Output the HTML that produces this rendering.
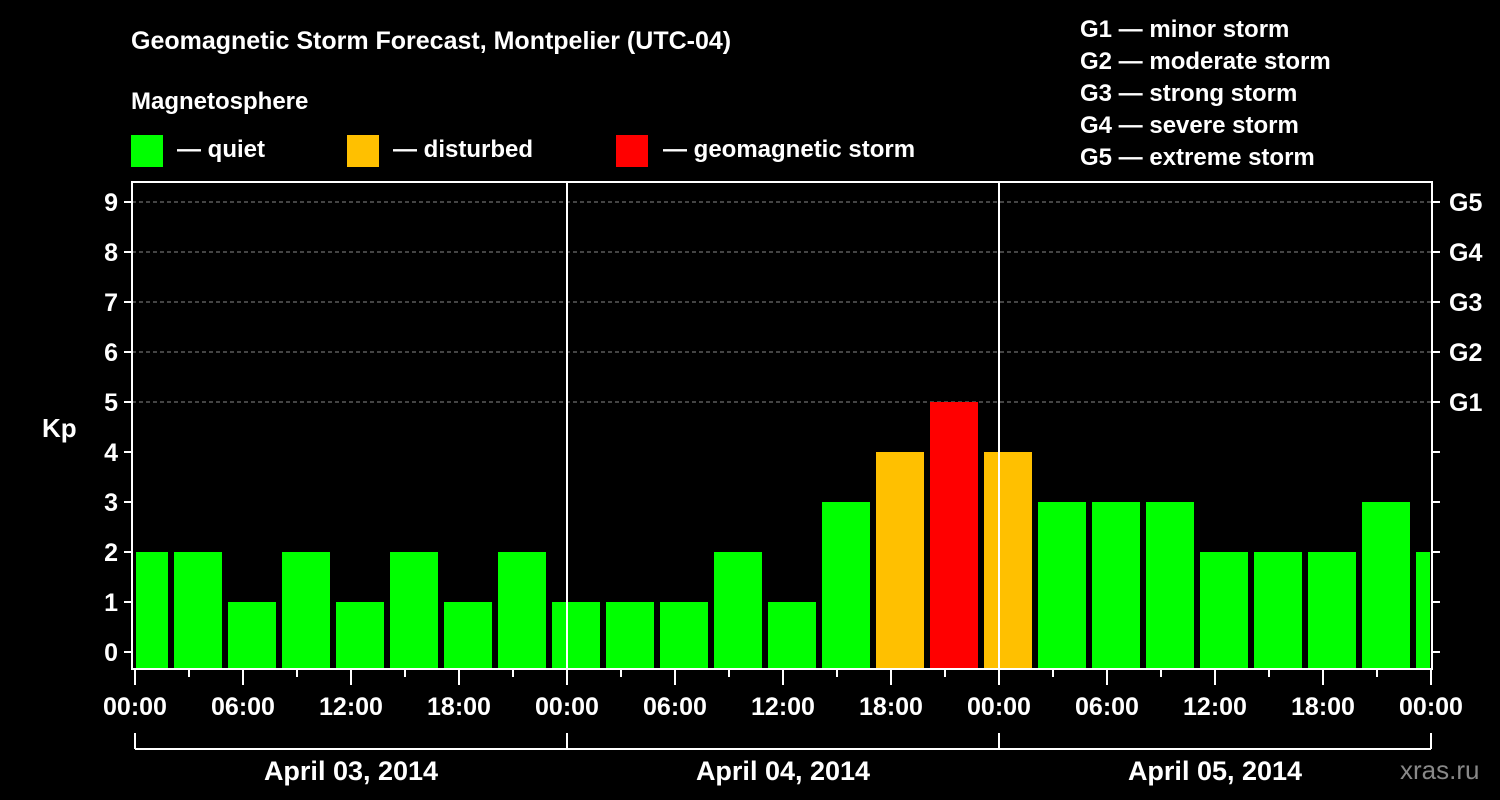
<!DOCTYPE html>
<html><head><meta charset="utf-8"><style>
body{margin:0;background:#000;}
svg{display:block;font-family:"Liberation Sans",sans-serif;font-weight:bold;}
</style></head><body>
<svg id="chart" width="1500" height="800" viewBox="0 0 1500 800">
<rect width="1500" height="800" fill="#000"/>
<text x="131" y="49" fill="#fff" font-size="25">Geomagnetic Storm Forecast, Montpelier (UTC-04)</text>
<text x="131" y="109" fill="#fff" font-size="24">Magnetosphere</text>
<g><rect x="131" y="135" width="32" height="32" fill="#00ff00"/><text x="177" y="157" fill="#fff" font-size="24">— quiet</text></g>
<g><rect x="347" y="135" width="32" height="32" fill="#ffc000"/><text x="393" y="157" fill="#fff" font-size="24">— disturbed</text></g>
<g><rect x="616" y="135" width="32" height="32" fill="#ff0000"/><text x="663" y="157" fill="#fff" font-size="24">— geomagnetic storm</text></g>
<g fill="#fff" font-size="24">
<text x="1080" y="37">G1 — minor storm</text><text x="1080" y="69">G2 — moderate storm</text><text x="1080" y="101">G3 — strong storm</text><text x="1080" y="133">G4 — severe storm</text><text x="1080" y="165">G5 — extreme storm</text>
</g>
<text x="42" y="437" fill="#fff" font-size="26">Kp</text>
<text x="1400" y="779" fill="#888" font-size="26" font-weight="normal">xras.ru</text>
<g id="plot"></g>
</svg>
<script>
const kpValues=[2,2,1,2,1,2,1,2,1,1,1,2,1,3,4,5,4,3,3,3,2,2,2,3,2];
const yTicks=[0,1,2,3,4,5,6,7,8,9];
const gLabels=["G1","G2","G3","G4","G5"];
const xLabels=["00:00","06:00","12:00","18:00","00:00","06:00","12:00","18:00","00:00","06:00","12:00","18:00","00:00"];
const dayLabels=["April 03, 2014","April 04, 2014","April 05, 2014"];
const NS="http://www.w3.org/2000/svg";
const X0=135,HPX=18,L=132,R=1432,T=182,B=669;
const xs=h=>X0+h*HPX, ys=k=>652-k*50;
const g=document.getElementById('plot');
function mk(t,a,p){const e=document.createElementNS(NS,t);for(const k in a)e.setAttribute(k,a[k]);(p||g).appendChild(e);return e;}
// grid
for(let k=5;k<=9;k++){const l=mk('line',{x1:L,x2:R,y1:ys(k),y2:ys(k),stroke:'#888','stroke-dasharray':'4,3','stroke-width':1});

}
const cp=mk('clipPath',{id:'clip'});mk('rect',{x:L,y:T,width:R-L,height:B-T},cp);
// bars
kpValues.forEach((v,i)=>{
 const x1=Math.max(xs(3*i-1)+3,L+4),x2=Math.min(xs(3*i+2)-3,R-2);
 const c=v>=5?'#ff0000':v>=4?'#ffc000':'#00ff00';
 const r=mk('rect',{x:x1,y:ys(v),width:x2-x1,height:B-ys(v)-1,fill:c});
 
 
});
// day separators
[1,2].forEach(d=>{const l=mk('line',{x1:xs(24*d),x2:xs(24*d),y1:T,y2:B,stroke:'#fff','stroke-width':2});

});
// frame
const f=mk('rect',{x:L,y:T,width:R-L,height:B-T,fill:'none',stroke:'#fff','stroke-width':2});


// y ticks
yTicks.forEach(k=>{
 mk('line',{x1:L-8,x2:L,y1:ys(k),y2:ys(k),stroke:'#fff','stroke-width':2});
 mk('line',{x1:R,x2:R+8,y1:ys(k),y2:ys(k),stroke:'#fff','stroke-width':2});
 const t=mk('text',{x:L-14,y:ys(k)+9,fill:'#fff','font-size':25,'text-anchor':'end'});t.textContent=k;
 
 
});
gLabels.forEach((s,i)=>{const t=mk('text',{x:R+17,y:ys(5+i)+9,fill:'#fff','font-size':25});t.textContent=s;
 
 });
// x ticks
for(let h=0;h<=72;h+=3){const maj=h%6==0;mk('line',{x1:xs(h),x2:xs(h),y1:B,y2:maj?685:677,stroke:'#fff','stroke-width':2});}
xLabels.forEach((s,i)=>{const t=mk('text',{x:xs(i*6),y:715,fill:'#fff','font-size':25,'text-anchor':'middle'});t.textContent=s;
 
 });
// day brackets
mk('line',{x1:xs(0),x2:xs(72),y1:749,y2:749,stroke:'#fff','stroke-width':2});
for(let d=0;d<=3;d++)mk('line',{x1:xs(24*d),x2:xs(24*d),y1:733,y2:749,stroke:'#fff','stroke-width':2});
dayLabels.forEach((s,i)=>{const t=mk('text',{x:xs(24*i+12),y:780,fill:'#fff','font-size':27,'text-anchor':'middle'});t.textContent=s;
 
 });
</script>
</body></html>
